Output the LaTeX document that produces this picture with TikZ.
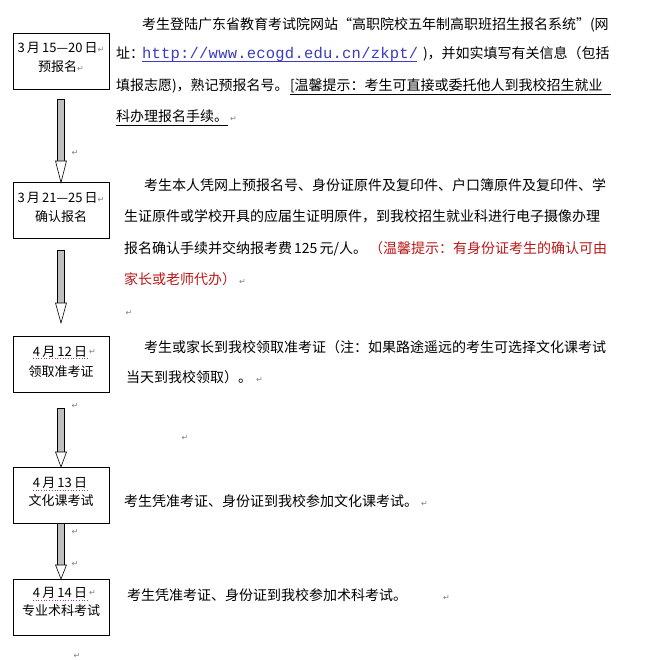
\documentclass[tikz,border=0pt]{standalone}
\usepackage{fontspec}
\setmainfont{Noto Sans CJK SC}
\newfontfamily\urlfont[LetterSpace=1.5]{Liberation Mono}
\newfontfamily\symf{DejaVu Sans}
\usetikzlibrary{calc}
\XeTeXlinebreaklocale "zh"
\XeTeXlinebreakskip=0.6pt plus 3pt
\definecolor{urlblue}{RGB}{60,60,190}
\definecolor{tipred}{RGB}{185,25,25}
\definecolor{spellpurple}{RGB}{150,60,160}
\newcommand\ret{{\symf\fontsize{8}{8}\selectfont\textcolor{gray}{↵}}}
\newcommand\blockarrow[3]{%
  \draw[arrshaft] ($(#1)+(-3.3,0)$) rectangle ($(#2)+(3.3,0)$);
  \draw[arrhead] ($(#2)+(-5.5,0)$) -- ($(#2)+(5.5,0)$) -- (#3) -- cycle;
}
\begin{document}
\begin{tikzpicture}[x=1pt,y=-1pt,
  every node/.style={inner sep=0pt,outer sep=0pt},
  box/.style={draw=black,line width=0.8pt,minimum width=96pt,minimum height=56pt,fill=white},
  btext/.style={font=\fontsize{13}{15}\selectfont},
  para/.style={anchor=base west,font=\fontsize{14}{16}\selectfont},
  retmark/.style={font=\symf\fontsize{8}{8}\selectfont,text=gray},
  arrshaft/.style={draw=black,line width=0.6pt,fill=gray!50},
  arrhead/.style={draw=black,line width=0.6pt,fill=white},
  ulline/.style={line width=0.6pt},
  spell/.style={draw=spellpurple,line width=0.7pt,dotted}]
\fill[white] (0,0) rectangle (671,660);
\useasboundingbox (0,0) rectangle (671,660);

% boxes
\node[box] (b1) at (61,61) {};
\node[box] (b2) at (61,210.5) {};
\node[box] (b3) at (61,364.5) {};
\node[box] (b4) at (61,495) {};
\node[box] (b5) at (61,607) {};

\node[btext] (b1a) at ($(b1.north)+(0,15)$) {3\,月\,15—20\,日\ret};
\node[btext] (b1b) at ($(b1.north)+(0,34)$) {预报名\ret};
\node[btext] (b2a) at ($(b2.north)+(0,15)$) {3\,月\,21—25\,日\ret};
\node[btext] (b2b) at ($(b2.north)+(0,34)$) {确认报名};
\node[btext] (b3a) at ($(b3.north)+(-1,15)$) {4\,月\,12\,日};
\node[retmark,anchor=west] (b3r) at ($(b3a.east)+(2,0)$) {↵};
\node[btext] (b3b) at ($(b3.north)+(0,35)$) {领取准考证};
\node[btext] (b4a) at ($(b4.north)+(-1,16)$) {4\,月\,13\,日};
\node[btext] (b4b) at ($(b4.north)+(0,34)$) {文化课考试};
\node[btext] (b5a) at ($(b5.north)+(-1,14)$) {4\,月\,14\,日};
\node[retmark,anchor=west] (b5r) at ($(b5a.east)+(2,0)$) {↵};
\node[btext] (b5b) at ($(b5.north)+(0,32)$) {专业术科考试};
\draw[spell] ($(b3a.base west)+(0,2.5)$) -- ($(b3a.base east)+(0,2.5)$);
\draw[spell] ($(b4a.base west)+(0,2.5)$) -- ($(b4a.base east)+(0,2.5)$);
\draw[spell] ($(b5a.base west)+(0,2.5)$) -- ($(b5a.base east)+(0,2.5)$);

% arrows
\coordinate (a1t) at ($(b1.south)+(0,10)$);
\coordinate (a1h) at (61,161);
\coordinate (a1e) at (b2.north);
\blockarrow{a1t}{a1h}{a1e}
\coordinate (a2t) at ($(b2.south)+(0,12)$);
\coordinate (a2h) at (61,303);
\coordinate (a2e) at (61,323);
\blockarrow{a2t}{a2h}{a2e}
\coordinate (a3t) at ($(b3.south)+(0,16)$);
\coordinate (a3h) at (61,452);
\coordinate (a3e) at (b4.north);
\blockarrow{a3t}{a3h}{a3e}
\coordinate (a4t) at (b4.south);
\coordinate (a4h) at (61,565);
\coordinate (a4e) at (b5.north);
\blockarrow{a4t}{a4h}{a4e}

% paragraph 1
\node[para] (p1a) at (142,30) {\hbox to 469pt{考生登陆广东省教育考试院网站“高职院校五年制高职班招生报名系统”(网}};
\node[para] (p1b1) at (116,59) {址：};
\node[para] (p1url) at (142,59) {\urlfont\fontsize{15.5}{16}\selectfont\textcolor{urlblue}{http://www.ecogd.edu.cn/zkpt/}};
\draw[ulline,urlblue] ($(p1url.base west)+(0,2.5)$) -- ($(p1url.base east)+(-1,2.5)$);
\node[para] (p1b2) at (423,59) {\hbox to 188pt{)，并如实填写有关信息（包括}};
\node[para] (p1c1) at (116,91) {\hbox to 172pt{填报志愿)，熟记预报名号。}};
\node[para] (p1c2) at (290,91) {\hbox to 321pt{[温馨提示：考生可直接或委托他人到我校招生就业}};
\draw[ulline] ($(p1c2.base west)+(0,3)$) -- ($(p1c2.base east)+(0,3)$);
\node[para] (p1d) at (116,122) {科办理报名手续。};
\draw[ulline] ($(p1d.base west)+(0,3)$) -- ($(p1d.base east)+(0,3)$);
\node[retmark,anchor=base west] (p1r) at ($(p1d.base east)+(2,0)$) {↵};

% paragraph 2
\node[para] (p2a) at (144,191) {\hbox to 467pt{考生本人凭网上预报名号、身份证原件及复印件、户口簿原件及复印件、学}};
\node[para] (p2b) at (124,222) {\hbox to 487pt{生证原件或学校开具的应届生证明原件，到我校招生就业科进行电子摄像办理}};
\node[para] (p2c1) at (124,253) {\hbox to 243pt{报名确认手续并交纳报考费 125 元/人。}};
\node[para,text=tipred] (p2c2) at (369,253) {\hbox to 242pt{（温馨提示：有身份证考生的确认可由}};
\node[para,text=tipred] (p2d) at (124,284) {家长或老师代办）};
\node[retmark,anchor=base west] (p2r) at ($(p2d.base east)+(3,0)$) {↵};

% paragraph 3
\node[para] (p3a) at (144,352) {\hbox to 462pt{考生或家长到我校领取准考证（注：如果路途遥远的考生可选择文化课考试}};
\node[para] (p3b) at (126,382) {当天到我校领取）。};
\node[retmark,anchor=base west] (p3r) at ($(p3b.base east)+(4,0)$) {↵};

% paragraphs 4 and 5
\node[para] (p4) at (124,506) {考生凭准考证、身份证到我校参加文化课考试。};
\node[retmark,anchor=base west] (p4r) at ($(p4.base east)+(3,0)$) {↵};
\node[para] (p5) at (127,600) {考生凭准考证、身份证到我校参加术科考试。};
\node[retmark,anchor=base west] (p5r) at (443,600) {↵};

% stray paragraph marks
\node[retmark] (r1) at (75,153) {↵};
\node[retmark] (r2) at (129,313) {↵};
\node[retmark] (r3) at (75,406) {↵};
\node[retmark] (r4) at (185,438) {↵};
\node[retmark] (r5) at (75,532) {↵};
\node[retmark] (r6) at (75,564) {↵};
\node[retmark] (r7) at (77,656) {↵};
\end{tikzpicture}
\end{document}
